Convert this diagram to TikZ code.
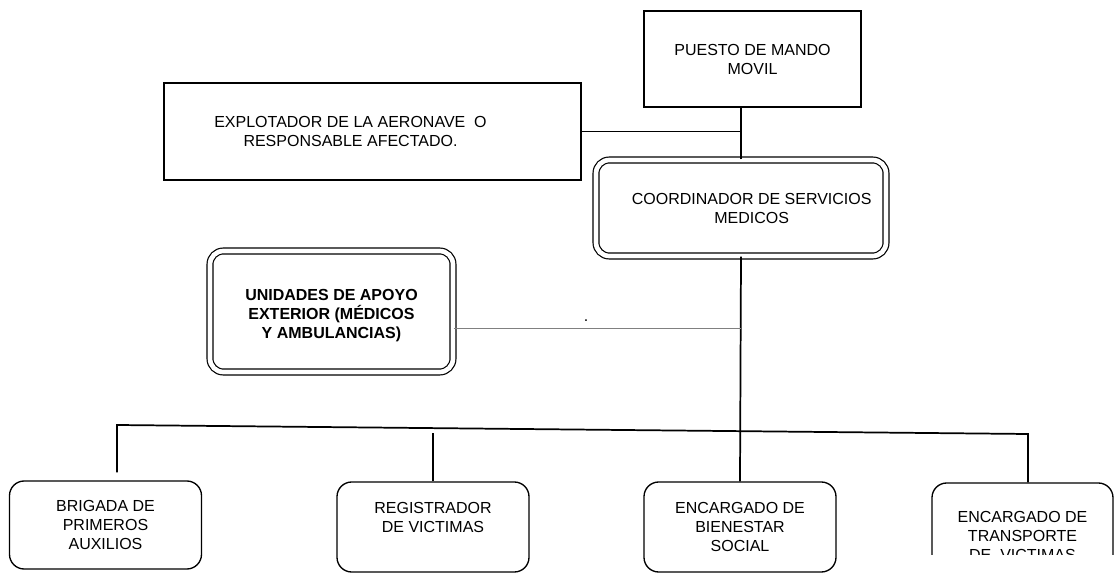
\documentclass[tikz,border=0pt]{standalone}
\usepackage{fontspec}
\setmainfont{Liberation Sans}
\usepackage{tikz}

\begin{document}
\begin{tikzpicture}[
  x=0.75pt, y=-0.75pt,
  every node/.style={align=center, font=\fontsize{12}{14.25}\selectfont},
  box/.style={draw, line width=1pt},
  dbox/.style={draw, double, double distance=3.5pt, line width=0.9pt, rounded corners=10pt},
  leaf/.style={draw, line width=1pt, rounded corners=11pt, minimum width=144pt, minimum height=67.5pt},
  link/.style={line width=1.3pt},
  feed/.style={line width=1pt, gray}
  ]
\clip (0,0) rectangle (1114,573);

\node[box, minimum width=162.75pt, minimum height=72pt] (puesto) at (752.5,59) {PUESTO DE MANDO\\MOVIL};
\node[box, minimum width=312.75pt, minimum height=72.75pt] (explotador) at (372.5,131.5) {EXPLOTADOR DE LA AERONAVE\ \ O\hspace*{33pt}\\RESPONSABLE AFECTADO.\hspace*{33pt}};
\node[dbox, minimum width=217.5pt, minimum height=72pt] (coordinador) at (741,208) {\hspace*{16pt}COORDINADOR DE SERVICIOS\\\hspace*{16pt}MEDICOS};
\node[dbox, minimum width=182.25pt, minimum height=90.75pt, font=\fontsize{12}{14.25}\selectfont\bfseries] (unidades) at (331.5,311.5) {\mbox{}\\UNIDADES DE APOYO\\EXTERIOR (MÉDICOS\\Y AMBULANCIAS)};
\node (punto) at (586,321) {.};

\node[leaf, minimum height=66pt] (brigada) at (105.5,525) {BRIGADA DE\\PRIMEROS\\AUXILIOS};
\node[leaf] (registrador) at (433,527) {REGISTRADOR\\DE VICTIMAS\\\mbox{}};
\node[leaf] (bienestar) at (740,527) {ENCARGADO DE\\BIENESTAR\\SOCIAL};
\begin{scope}
\clip (900,470) rectangle (1114,554);
\node[leaf, minimum width=135.75pt, minimum height=79.5pt] (transporte) at (1022.5,536) {ENCARGADO DE\\TRANSPORTE\\DE\ \ VICTIMAS};
\end{scope}

\draw[link] (coordinador.north) -- (coordinador.north |- puesto.south);
\draw[link] (explotador.east) -- (explotador.east -| coordinador.north);
\draw[link] (coordinador.south) -- (bienestar.north);
\draw[feed] ([yshift=-12.75pt]unidades.east) -- ([yshift=-12.75pt]unidades.east -| coordinador.south);

\coordinate (busL) at (117,425);
\coordinate (busR) at (1028,434);
\draw[link] (busL |- brigada.north) ++(0,-8) -- (busL) -- (busR) -- (busR |- transporte.north);
\draw[link] (registrador.north) -- ++(0,-48);
\end{tikzpicture}
\end{document}
